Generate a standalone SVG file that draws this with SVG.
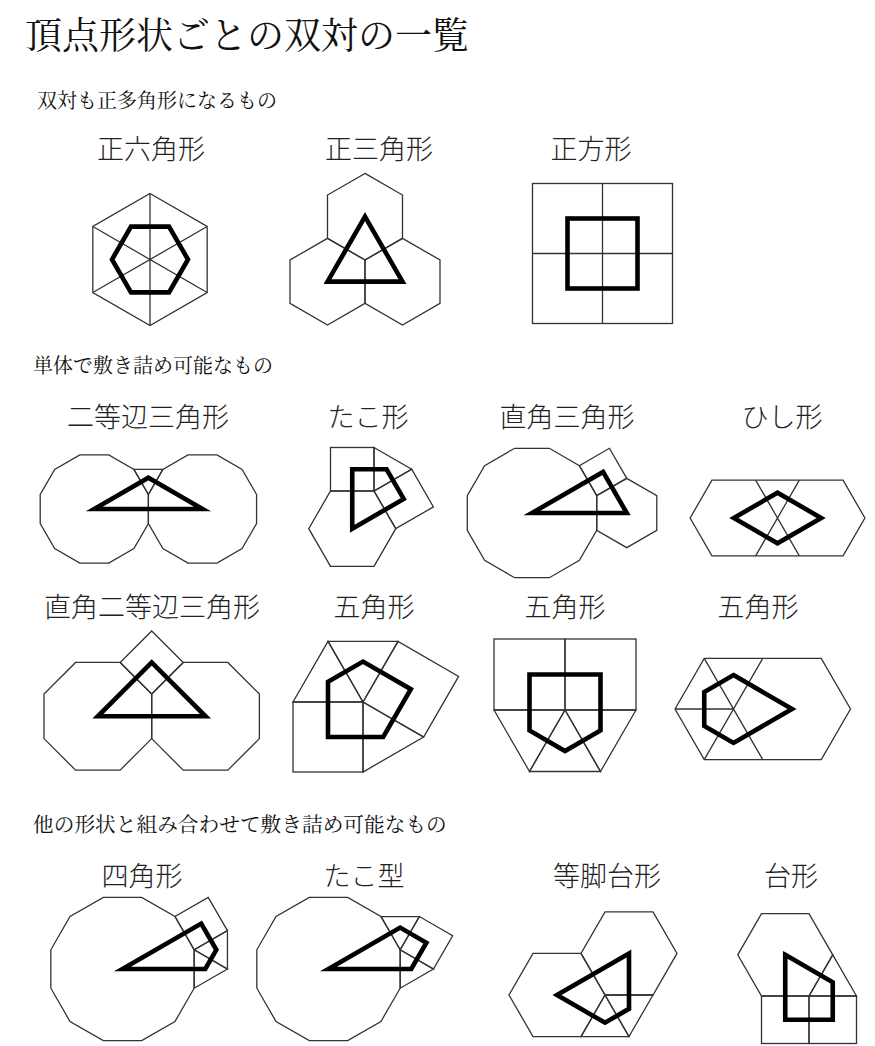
<svg xmlns="http://www.w3.org/2000/svg" width="875" height="1046" viewBox="0 0 875 1046">
<style>
.bg{fill:#fff}
.t{fill:none;stroke:#333;stroke-width:1.3;stroke-linejoin:miter}
.b{fill:none;stroke:#000;stroke-width:4.6;stroke-linejoin:miter}
.title{font-family:"Noto Serif CJK JP","Noto Sans CJK JP",serif;font-size:37px;fill:#111}
.sec{font-family:"Noto Serif CJK JP","Noto Sans CJK JP",serif;font-size:20px;fill:#111}
.lbl{font-family:"Noto Sans CJK JP","Noto Sans CJK SC",sans-serif;font-size:27px;font-weight:300;fill:#222;text-anchor:middle}
</style>
<rect class="bg" x="0" y="0" width="875" height="1046"/>
<text class="title" x="25" y="49">頂点形状ごとの双対の一覧</text>
<text class="sec" x="37" y="108">双対も正多角形になるもの</text>
<text class="sec" x="33" y="373">単体で敷き詰め可能なもの</text>
<text class="sec" x="33" y="832" style="font-size:20.7px">他の形状と組み合わせて敷き詰め可能なもの</text>

<g id="hexagon">
<text class="lbl" x="151" y="159">正六角形</text>
<polygon class="t" points="150,193.5 207.16,226.5 207.16,292.5 150,325.5 92.84,292.5 92.84,226.5"/>
<path class="t" d="M150,193.5L150,325.5M207.16,226.5L92.84,292.5M207.16,292.5L92.84,226.5"/>
<polygon class="b" points="188,259.5 169,226.59 131,226.59 112,259.5 131,292.41 169,292.41"/>
</g>

<g id="triangle">
<text class="lbl" x="379" y="159">正三角形</text>
<polygon class="t" points="365,173.4 402.5,195.05 402.5,238.35 365,260 327.5,238.35 327.5,195.05"/>
<polygon class="t" points="327.5,238.35 365,260 365,303.3 327.5,324.95 290,303.3 290,260"/>
<polygon class="t" points="402.5,238.35 440,260 440,303.3 402.5,324.95 365,303.3 365,260"/>
<polygon class="b" points="365,216.7 402.5,281.65 327.5,281.65"/>
</g>

<g id="square">
<text class="lbl" x="591" y="159">正方形</text>
<rect class="t" x="532.5" y="183.5" width="140" height="140"/>
<path class="t" d="M602.5,183.5V323.5M532.5,253.5H672.5"/>
<rect class="b" x="567.5" y="218.5" width="70" height="70"/>
</g>

<g id="isosceles">
<text class="lbl" x="148" y="427">二等辺三角形</text>
<polygon class="t" points="148.39,494.51 133.9,469.4 108.79,454.91 79.81,454.91 54.7,469.4 40.21,494.51 40.21,523.49 54.7,548.6 79.81,563.09 108.79,563.09 133.9,548.6 148.39,523.49"/>
<polygon class="t" points="256.57,494.51 242.08,469.4 216.97,454.91 187.99,454.91 162.88,469.4 148.39,494.51 148.39,523.49 162.88,548.6 187.99,563.09 216.97,563.09 242.08,548.6 256.57,523.49"/>
<polygon class="t" points="133.9,469.4 162.88,469.4 148.39,494.51"/>
<polygon class="b" points="94.3,509 202.48,509 148.39,477.77"/>
</g>

<g id="kite">
<text class="lbl" x="368" y="427">たこ形</text>
<rect class="t" x="330.5" y="447.5" width="43.5" height="43.5"/>
<polygon class="t" points="374,447.5 411.67,469.25 374,491"/>
<polygon class="t" points="374,491 411.67,469.25 433.42,506.92 395.75,528.67"/>
<polygon class="t" points="330.5,491 374,491 395.75,528.67 374,566.34 330.5,566.34 308.75,528.67"/>
<polygon class="b" points="352.25,469.25 386.56,469.25 403.71,498.96 352.25,528.67"/>
</g>

<g id="right-triangle">
<text class="lbl" x="567" y="427">直角三角形</text>
<polygon class="t" points="596.72,495.66 579.38,465.62 549.34,448.28 514.66,448.28 484.62,465.62 467.28,495.66 467.28,530.34 484.62,560.38 514.66,577.72 549.34,577.72 579.38,560.38 596.72,530.34"/>
<polygon class="t" points="626.75,478.32 656.78,495.66 656.78,530.34 626.75,547.68 596.72,530.34 596.72,495.66"/>
<polygon class="t" points="579.38,465.62 596.72,495.66 626.75,478.32 609.41,448.28"/>
<polygon class="b" points="532,513 626.75,513 603.07,471.97"/>
</g>

<g id="rhombus">
<text class="lbl" x="782" y="427">ひし形</text>
<polygon class="t" points="690.1,518 711.95,480.15 843.05,480.15 864.9,518 843.05,555.85 711.95,555.85"/>
<path class="t" d="M755.65,480.15L799.35,555.85M799.35,480.15L755.65,555.85"/>
<polygon class="b" points="733.8,518 777.5,492.77 821.2,518 777.5,543.23"/>
</g>

<g id="right-isosceles">
<text class="lbl" x="152" y="617">直角二等辺三角形</text>
<polygon class="t" points="75.56,662.46 120.16,662.46 151.7,694 151.7,738.6 120.16,770.14 75.56,770.14 44.02,738.6 44.02,694"/>
<polygon class="t" points="183.24,662.46 227.84,662.46 259.38,694 259.38,738.6 227.84,770.14 183.24,770.14 151.7,738.6 151.7,694"/>
<polygon class="t" points="151.7,630.92 183.24,662.46 151.7,694 120.16,662.46"/>
<polygon class="b" points="97.86,716.3 205.54,716.3 151.7,662.46"/>
</g>

<g id="pentagon-1">
<text class="lbl" x="374" y="617">五角形</text>
<rect class="t" x="293" y="702" width="70" height="70"/>
<polygon class="t" points="293,702 328,641.38 363,702"/>
<polygon class="t" points="328,641.38 398,641.38 363,702"/>
<polygon class="t" points="363,702 398,641.38 458.62,676.38 423.62,737"/>
<polygon class="t" points="363,702 423.62,737 363,772"/>
<polygon class="b" points="328,737 328,681.79 363,661.59 410.81,689.19 383.21,737"/>
</g>

<g id="pentagon-2">
<text class="lbl" x="565" y="617">五角形</text>
<rect class="t" x="494" y="639" width="71" height="71"/>
<rect class="t" x="565" y="639" width="71" height="71"/>
<polygon class="t" points="494,710 529.5,771.49 565,710"/>
<polygon class="t" points="565,710 529.5,771.49 600.5,771.49"/>
<polygon class="t" points="565,710 600.5,771.49 636,710"/>
<polygon class="b" points="529.5,674.5 600.5,674.5 600.5,730.5 565,751 529.5,730.5"/>
</g>

<g id="pentagon-3">
<text class="lbl" x="758" y="617">五角形</text>
<polygon class="t" points="675,709 704.25,658.34 821.25,658.34 850.5,709 821.25,759.66 704.25,759.66"/>
<path class="t" d="M675,709H733.5M704.25,658.34L762.75,759.66M762.75,658.34L704.25,759.66"/>
<polygon class="b" points="733.5,675.11 792,709 733.5,742.89 704.25,725.89 704.25,692.11"/>
</g>

<g id="quadrilateral">
<text class="lbl" x="142" y="886">四角形</text>
<polygon class="t" points="194.17,949.8 174.97,916.53 141.7,897.33 103.3,897.33 70.03,916.53 50.83,949.8 50.83,988.2 70.03,1021.47 103.3,1040.67 141.7,1040.67 174.97,1021.47 194.17,988.2"/>
<polygon class="t" points="174.97,916.53 194.17,949.8 227.44,930.6 208.24,897.33"/>
<polygon class="t" points="194.17,949.8 227.44,930.6 227.44,969"/>
<polygon class="t" points="194.17,949.8 227.44,969 194.17,988.2"/>
<polygon class="b" points="122.5,969 201.2,923.57 216.35,949.8 205.26,969"/>
</g>

<g id="kite-2">
<text class="lbl" x="364" y="886">たこ型</text>
<polygon class="t" points="400.17,949.8 380.97,916.53 347.7,897.33 309.3,897.33 276.03,916.53 256.83,949.8 256.83,988.2 276.03,1021.47 309.3,1040.67 347.7,1040.67 380.97,1021.47 400.17,988.2"/>
<polygon class="t" points="380.97,916.53 419.38,916.53 400.17,949.8"/>
<polygon class="t" points="400.17,949.8 419.38,916.53 452.65,935.74 433.44,969"/>
<polygon class="t" points="400.17,949.8 433.44,969 400.17,988.2"/>
<polygon class="b" points="328.5,969 400.17,927.62 426.41,942.77 411.26,969"/>
</g>

<g id="iso-trapezoid">
<text class="lbl" x="607" y="886">等脚台形</text>
<polygon class="t" points="605,995 581,1036.57 533,1036.57 509,995 533,953.43 581,953.43"/>
<polygon class="t" points="605,995 653,995 677,953.43 653,911.86 605,911.86 581,953.43"/>
<polygon class="t" points="605,995 653,995 629,1036.57"/>
<polygon class="t" points="605,995 629,1036.57 581,1036.57"/>
<polygon class="b" points="557,995 629,953.43 629,1008.86 605,1022.71"/>
</g>

<g id="trapezoid">
<text class="lbl" x="791" y="886">台形</text>
<polygon class="t" points="761.5,996 809,996 832.75,954.86 809,913.72 761.5,913.72 737.75,954.86"/>
<polygon class="t" points="809,996 832.75,954.86 856.5,996"/>
<rect class="t" x="761.5" y="996" width="47.5" height="47.5"/>
<rect class="t" x="809" y="996" width="47.5" height="47.5"/>
<polygon class="b" points="785.25,954.86 832.75,982.29 832.75,1019.75 785.25,1019.75"/>
</g>
</svg>
